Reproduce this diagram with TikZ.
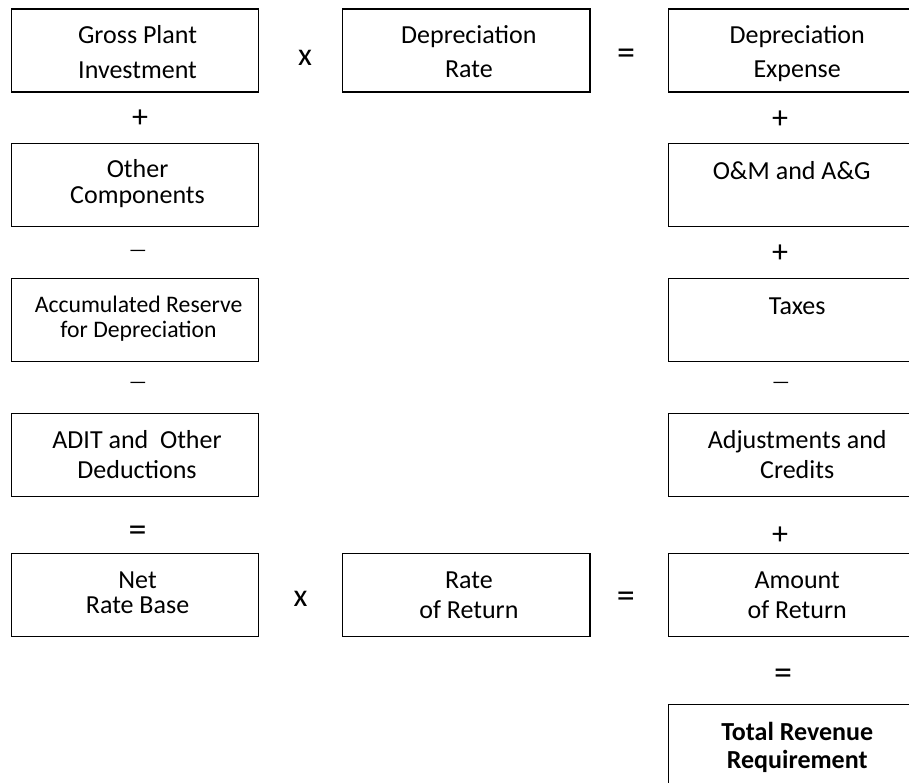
\documentclass[tikz,border=0pt]{standalone}
\usepackage{fontspec}
\setmainfont{Carlito}
\begin{document}
\begin{tikzpicture}[x=1pt,y=-1pt,
  box/.style={draw=black,line width=1.4pt,minimum width=247.3pt,minimum height=83pt,inner sep=0pt,anchor=north west},
  rbox/.style={box,minimum width=252pt},
  lbl/.style={anchor=base,align=center,inner sep=0pt,font=\fontsize{26}{30}\selectfont},
  op/.style={inner sep=0pt,anchor=center,font=\fontsize{32}{36}\selectfont},
  eqop/.style={op,font=\fontsize{36}{40}\selectfont},
  dashop/.style={inner sep=0pt,anchor=center,font=\fontsize{20}{24}\selectfont}]
\useasboundingbox (0,0) rectangle (909,783);
\clip (0,0) rectangle (909,783);
% boxes
\node[box] (gpi) at (10.7,8.3) {};
\node[box] (dr) at (342,8.3) {};
\node[rbox] (de) at (668,8.3) {};
\node[box] (oc) at (10.7,143) {};
\node[rbox] (om) at (668,143) {};
\node[box] (ard) at (10.7,278) {};
\node[rbox] (tx) at (668,278) {};
\node[box] (adit) at (10.7,413) {};
\node[rbox] (adj) at (668,413) {};
\node[box] (nrb) at (10.7,553) {};
\node[box] (ror) at (342,553) {};
\node[rbox] (aor) at (668,553) {};
\node[rbox] (trr) at (668,704) {};
% labels (base anchor = baseline of the last line)
\node[lbl,font=\fontsize{26}{35}\selectfont] (gpi-t) at ([xshift=2.5pt,yshift=-70pt]gpi.north) {Gross Plant\\Investment};
\node[lbl,font=\fontsize{26}{34}\selectfont] (dr-t) at ([xshift=2.5pt,yshift=-69pt]dr.north) {Depreciation\\Rate};
\node[lbl,font=\fontsize{26}{34}\selectfont] (de-t) at ([xshift=2.5pt,yshift=-69pt]de.north) {Depreciation\\Expense};
\node[lbl,font=\fontsize{26}{26}\selectfont] (oc-t) at ([xshift=2.5pt,yshift=-61pt]oc.north) {Other\\Components};
\node[lbl] (om-t) at ([xshift=-3pt,yshift=-37pt]om.north) {O\&M and A\&G};
\node[lbl,font=\fontsize{23.7}{25.6}\selectfont] (ard-t) at ([xshift=3.5pt,yshift=-59.6pt]ard.north) {Accumulated Reserve\\for Depreciation};
\node[lbl] (tx-t) at ([xshift=2.5pt,yshift=-36pt]tx.north) {Taxes};
\node[lbl] (adit-t) at ([xshift=2pt,yshift=-65pt]adit.north) {ADIT and\ \ Other\\Deductions};
\node[lbl] (adj-t) at ([xshift=2.5pt,yshift=-65pt]adj.north) {Adjustments and\\Credits};
\node[lbl,font=\fontsize{26}{24.4}\selectfont] (nrb-t) at ([xshift=2.5pt,yshift=-60pt]nrb.north) {Net\\Rate Base};
\node[lbl] (ror-t) at ([xshift=2.5pt,yshift=-65pt]ror.north) {Rate\\of Return};
\node[lbl] (aor-t) at ([xshift=2.5pt,yshift=-65pt]aor.north) {Amount\\of Return};
\node[lbl,font=\fontsize{26}{28}\bfseries] (trr-t) at ([xshift=2.5pt,yshift=-64pt]trr.north) {Total Revenue\\Requirement};
% operators
\node[op] (x1) at (305,57.5) {x};
\node[eqop] (e1) at (626,56.7) {=};
\node[op] (p1) at (140,118.5) {+};
\node[dashop] (m1) at (138,253) {—};
\node[dashop] (m2) at (138,385) {—};
\node[eqop] (e2) at (137.5,533.5) {=};
\node[op] (p2) at (780,120) {+};
\node[op] (p3) at (780,254) {+};
\node[dashop] (m3) at (781,385) {—};
\node[op] (p4) at (780,535.5) {+};
\node[op] (x2) at (300.5,599) {x};
\node[eqop] (e3) at (625.8,600) {=};
\node[eqop] (e4) at (783,676.7) {=};
\end{tikzpicture}
\end{document}
